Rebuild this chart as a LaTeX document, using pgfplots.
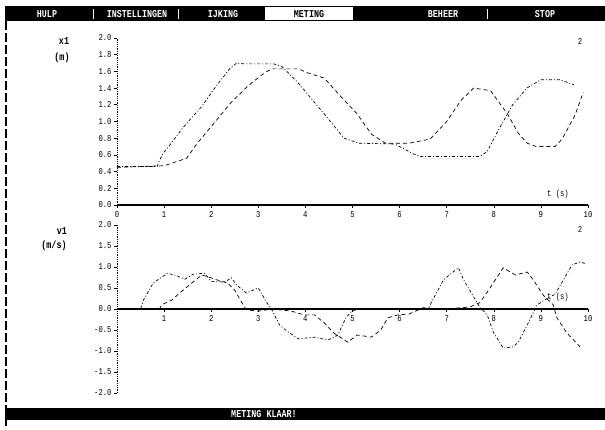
\documentclass[border=0pt]{standalone}
\usepackage{fontspec}
\setmainfont{Liberation Mono}[FakeStretch=0.8]
\usepackage{pgfplots}
\pgfplotsset{compat=1.18}
\newcommand\scr{\fontsize{9}{10}\selectfont}
\newcommand\mnu{\fontsize{10.5}{11}\selectfont\bfseries}
\pgfplotstableread{
t x
0 0.46
0.85 0.46
0.9 0.53
0.98 0.62
1.07 0.68
1.39 0.92
1.8 1.18
2.1 1.42
2.39 1.63
2.54 1.70
2.7 1.69
3.33 1.69
3.5 1.66
3.85 1.46
4.4 1.09
4.82 0.80
5.14 0.74
5.9 0.73
6.1 0.67
6.3 0.61
6.45 0.58
7.7 0.58
7.86 0.64
8.1 0.90
8.4 1.20
8.7 1.40
9.0 1.50
9.4 1.50
9.7 1.44
}\posA
\pgfplotstableread{
t x
0 0.45
1.0 0.47
1.16 0.50
1.48 0.56
1.69 0.73
1.84 0.83
2.41 1.22
2.77 1.42
2.92 1.49
3.13 1.58
3.28 1.63
3.85 1.63
4.06 1.58
4.4 1.52
4.75 1.30
5.1 1.09
5.4 0.85
5.7 0.74
6.2 0.74
6.65 0.79
7.0 1.00
7.3 1.25
7.57 1.40
7.93 1.37
8.29 1.09
8.4 0.98
8.52 0.86
8.71 0.74
8.9 0.70
9.3 0.70
9.45 0.79
9.72 1.07
9.9 1.35
}\posB
\pgfplotstableread{
t v
0 0
0.5 0.0
0.56 0.21
0.77 0.62
1.07 0.85
1.25 0.80
1.44 0.71
1.62 0.83
1.86 0.85
2.0 0.66
2.28 0.64
2.43 0.74
2.54 0.57
2.75 0.38
3.0 0.50
3.17 0.17
3.28 0.0
3.45 -0.38
3.66 -0.57
3.85 -0.71
4.19 -0.67
4.48 -0.74
4.69 -0.62
4.86 -0.21
4.97 -0.07
5.1 0.0
6.6 0.0
6.93 0.69
7.1 0.85
7.25 0.98
7.36 0.69
7.55 0.33
7.7 0.05
7.86 -0.14
7.99 -0.55
8.2 -0.93
8.41 -0.90
8.52 -0.79
8.71 -0.38
8.92 0.10
9.13 0.25
9.3 0.35
9.45 0.64
9.66 1.05
9.83 1.12
9.95 1.08
}\velA
\pgfplotstableread{
t v
0 0
0.9 0.0
0.95 0.10
1.16 0.21
1.33 0.38
1.59 0.62
1.8 0.81
1.95 0.76
2.1 0.70
2.35 0.62
2.5 0.45
2.65 0.15
2.75 -0.02
3.0 -0.05
3.3 0.0
3.7 -0.05
3.97 -0.14
4.19 -0.14
4.4 -0.33
4.6 -0.57
4.9 -0.79
5.1 -0.62
5.4 -0.67
5.6 -0.50
5.75 -0.21
5.96 -0.14
6.2 -0.12
6.5 0.03
7.0 0.0
7.5 0.05
7.7 0.15
7.86 0.40
8.03 0.69
8.2 0.98
8.46 0.81
8.71 0.88
8.84 0.69
9.05 0.33
9.26 0.10
9.34 -0.21
9.55 -0.57
9.83 -0.90
}\velB
\pgfplotsset{
  scrax/.style={
    scale only axis, width=471pt, anchor=south west, clip=false,
    xmin=0, xmax=10, xtick={0,...,10},
    tick align=outside, major tick length=3pt,
    tick style={black, line width=0.6pt},
    yticklabel style={font=\scr, xshift=1pt},
    xticklabel style={font=\scr},
    y axis line style={densely dotted, line width=0.8pt},
    x axis line style={line width=1.4pt},
    /pgf/number format/assume math mode=true,
  },
  curA/.style={black, line width=0.7pt, dash pattern=on 3pt off 2pt on 1pt off 2pt},
  curB/.style={black, line width=0.7pt, dash pattern=on 4pt off 3pt},
}
\begin{document}
\begin{tikzpicture}
\useasboundingbox (0,0) rectangle (605pt,430pt);
% menu bar
\fill[black] (5pt,409pt) rectangle (605pt,424pt);
\fill[white] (265pt,410pt) rectangle (353pt,422.5pt);
\foreach \xx in {93,178,487} \draw[white, line width=0.8pt] (\xx pt,411pt) -- (\xx pt,421pt);
\node[white, font=\mnu] at (47pt,416pt) {HULP};
\node[white, font=\mnu] at (137pt,416pt) {INSTELLINGEN};
\node[white, font=\mnu] at (223pt,416pt) {IJKING};
\node[black, font=\mnu] at (309pt,416pt) {METING};
\node[white, font=\mnu] at (443pt,416pt) {BEHEER};
\node[white, font=\mnu] at (545pt,416pt) {STOP};
% bottom status bar
\fill[black] (5pt,10pt) rectangle (605pt,22pt);
\node[white, font=\mnu] at (264pt,16pt) {METING KLAAR!};
% left border
\draw[black, line width=1.4pt, dash pattern=on 9pt off 3pt] (6pt,409pt) -- (6pt,3pt);
% axis labels
\node[font=\mnu] at (64pt,389pt) {x1};
\node[font=\mnu] at (62pt,372pt) {(m)};
\node[font=\mnu] at (62pt,199pt) {v1};
\node[font=\mnu] at (54pt,184pt) {(m/s)};
\node[font=\scr] at (558pt,236pt) {t (s)};
\node[font=\scr] at (558pt,133pt) {t (s)};
\node[font=\scr] at (580pt,389pt) {2};
\node[font=\scr] at (580pt,201pt) {2};
% position axis
\begin{axis}[scrax, at={(117pt,225pt)}, height=167pt,
  ymin=0, ymax=2,
  axis x line*=bottom, axis y line*=left,
  ytick={0,0.2,0.4,0.6,0.8,1.0,1.2,1.4,1.6,1.8,2.0},
  yticklabels={0.0,0.2,0.4,0.6,0.8,1.0,1.2,1.4,1.6,1.8,2.0},
  xticklabels={0,1,2,3,4,5,6,7,8,9,10}]
\addplot[curA] table[x=t,y=x] {\posA};
\addplot[curB] table[x=t,y=x] {\posB};
\end{axis}
% velocity axis
\begin{axis}[scrax, at={(117pt,37pt)}, height=168pt,
  ymin=-2, ymax=2,
  axis x line*=middle, axis y line*=left,
  ytick={-2,-1.5,-1,-0.5,0,0.5,1,1.5,2},
  yticklabels={-2.0,-1.5,-1.0,-0.5,0.0,0.5,1.0,1.5,2.0},
  xticklabels={,1,2,3,4,5,6,7,8,9,10}]
\addplot[curA] table[x=t,y=v] {\velA};
\addplot[curB] table[x=t,y=v] {\velB};
\end{axis}
\end{tikzpicture}
\end{document}
